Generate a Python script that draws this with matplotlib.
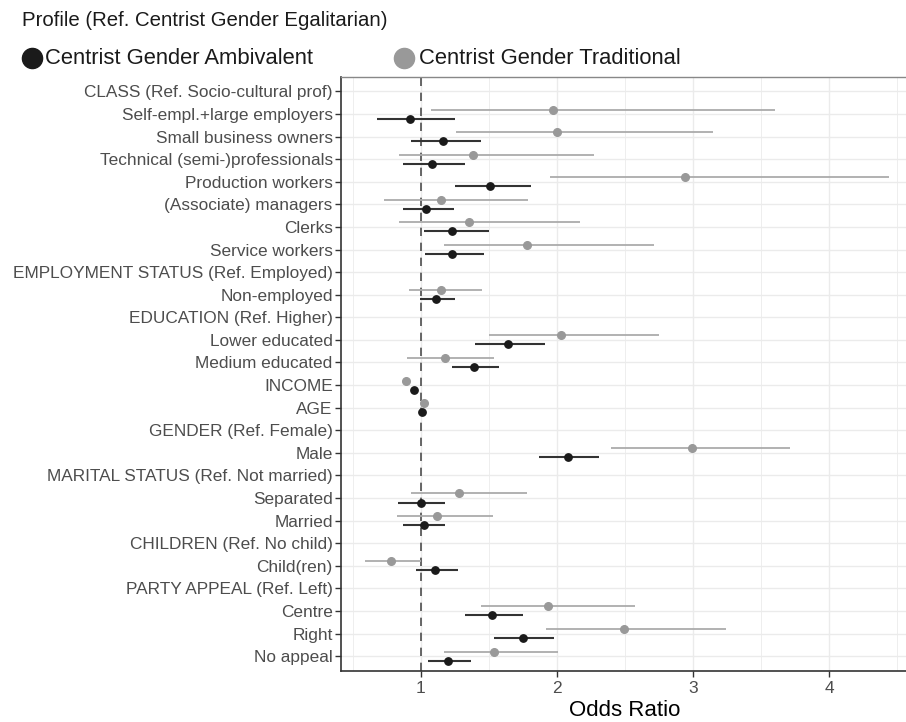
import numpy as np
import matplotlib
matplotlib.use("Agg")
import matplotlib.pyplot as plt
from matplotlib.lines import Line2D

plt.rcParams['font.family'] = ['Liberation Sans', 'DejaVu Sans']

# Row labels, top to bottom
labels = [
    "CLASS (Ref. Socio-cultural prof)",
    "Self-empl.+large employers",
    "Small business owners",
    "Technical (semi-)professionals",
    "Production workers",
    "(Associate) managers",
    "Clerks",
    "Service workers",
    "EMPLOYMENT STATUS (Ref. Employed)",
    "Non-employed",
    "EDUCATION (Ref. Higher)",
    "Lower educated",
    "Medium educated",
    "INCOME",
    "AGE",
    "GENDER (Ref. Female)",
    "Male",
    "MARITAL STATUS (Ref. Not married)",
    "Separated",
    "Married",
    "CHILDREN (Ref. No child)",
    "Child(ren)",
    "PARTY APPEAL (Ref. Left)",
    "Centre",
    "Right",
    "No appeal",
]
nan = np.nan

# Centrist Gender Ambivalent: odds ratio and 95% CI
amb_or = [nan, 0.92, 1.16, 1.08, 1.51, 1.04, 1.23, 1.23, nan, 1.11, nan, 1.64, 1.39,
          0.95, 1.01, nan, 2.08, nan, 1.00, 1.02, nan, 1.10, nan, 1.52, 1.75, 1.20]
amb_lo = [nan, 0.68, 0.93, 0.87, 1.25, 0.87, 1.02, 1.03, nan, 0.99, nan, 1.40, 1.23,
          0.94, 1.00, nan, 1.87, nan, 0.83, 0.87, nan, 0.96, nan, 1.32, 1.54, 1.05]
amb_hi = [nan, 1.25, 1.44, 1.32, 1.81, 1.24, 1.50, 1.46, nan, 1.25, nan, 1.91, 1.57,
          0.96, 1.02, nan, 2.31, nan, 1.18, 1.18, nan, 1.27, nan, 1.75, 1.98, 1.37]

# Centrist Gender Traditional: odds ratio and 95% CI
tra_or = [nan, 1.97, 2.00, 1.38, 2.94, 1.15, 1.35, 1.78, nan, 1.15, nan, 2.03, 1.18,
          0.89, 1.02, nan, 2.99, nan, 1.28, 1.12, nan, 0.78, nan, 1.93, 2.49, 1.54]
tra_lo = [nan, 1.07, 1.26, 0.84, 1.95, 0.73, 0.84, 1.17, nan, 0.91, nan, 1.50, 0.90,
          0.87, 1.01, nan, 2.40, nan, 0.93, 0.82, nan, 0.59, nan, 1.44, 1.92, 1.17]
tra_hi = [nan, 3.60, 3.15, 2.27, 4.44, 1.79, 2.17, 2.71, nan, 1.45, nan, 2.75, 1.54,
          0.92, 1.03, nan, 3.71, nan, 1.78, 1.53, nan, 1.00, nan, 2.57, 3.24, 2.01]

x_ticks = [1, 2, 3, 4]

fig = plt.figure(figsize=(9.06, 7.22), dpi=100)
ax = fig.add_axes([341 / 906, 51 / 722, 567 / 906, 594 / 722])

n = len(labels)
ypos = np.arange(n, 0, -1, dtype=float)
dodge = 0.2

ink = "#4d4d4d"
grid_c = "#ebebeb"

# background grid
for xv in np.arange(0.5, 4.6, 0.5):
    ax.axvline(xv, color=grid_c, lw=1.0 if xv % 1 == 0 else 0.6, zorder=0)
for yv in ypos:
    ax.axhline(yv, color=grid_c, lw=1.0, zorder=0)

# reference line at OR = 1
ax.axvline(1, color="#4d4d4d", lw=1.2, ls=(0, (5, 4)), zorder=1)

# Traditional (grey, upper)
yt = ypos + dodge
ax.hlines(yt, tra_lo, tra_hi, color="#ababab", lw=1.3, zorder=2)
ax.plot(tra_or, yt, "o", color="#999999", ms=5.5, zorder=3)

# Ambivalent (black, lower)
ya = ypos - dodge
ax.hlines(ya, amb_lo, amb_hi, color="#333333", lw=1.5, zorder=4)
ax.plot(amb_or, ya, "o", color="#1a1a1a", ms=5.3, zorder=5)

ax.set_xlim(0.412, 4.58)
ax.set_ylim(1 - 0.66, n + 0.64)
ax.set_yticks(ypos)
ax.set_yticklabels(labels)
ax.set_xticks(x_ticks)
ax.set_xticklabels([str(v) for v in x_ticks])
ax.tick_params(axis="y", labelsize=12.4, labelcolor=ink, length=4, width=1.0, color="#333333", pad=2)
ax.tick_params(axis="x", labelsize=12.5, labelcolor=ink, length=4, width=1.0, color="#333333", pad=3)
ax.set_xlabel("Odds Ratio", fontsize=16, color="black", labelpad=3)

for s in ["left", "bottom"]:
    ax.spines[s].set_color("#333333")
    ax.spines[s].set_linewidth(1.2)
ax.spines["top"].set_color("#888888")
ax.spines["top"].set_linewidth(1.0)
ax.spines["right"].set_visible(False)

# Header and legend
fig.text(22 / 906, 1 - 20 / 722, "Profile (Ref. Centrist Gender Egalitarian)",
         fontsize=14.7, va="center", ha="left", color="#1a1a1a")
leg_y = 1 - 58 / 722
fig.add_artist(Line2D([32 / 906], [leg_y], marker="o", ms=14.5, color="#1a1a1a",
                      transform=fig.transFigure))
fig.text(45 / 906, leg_y, "Centrist Gender Ambivalent", fontsize=15.8, va="center",
         ha="left", color="#1a1a1a")
fig.add_artist(Line2D([404 / 906], [leg_y], marker="o", ms=14.5, color="#999999",
                      transform=fig.transFigure))
fig.text(419 / 906, leg_y, "Centrist Gender Traditional", fontsize=15.8, va="center",
         ha="left", color="#1a1a1a")

fig.savefig("out.png", dpi=100)
